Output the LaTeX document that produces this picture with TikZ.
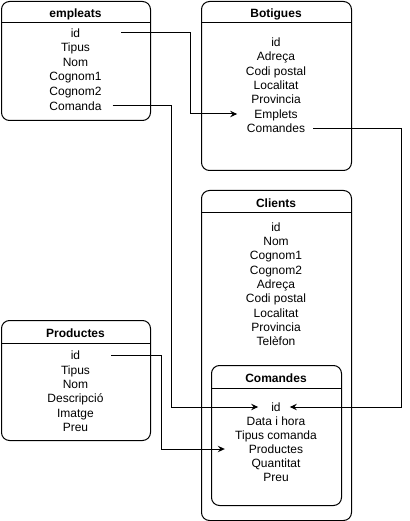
\documentclass[tikz,border=0pt]{standalone}
\usepackage{fontspec}
\setmainfont{Liberation Sans}
\usetikzlibrary{arrows.meta}
\begin{document}
\begin{tikzpicture}[x=1pt,y=-1pt,
  tbl/.style={draw=black,line width=1pt,rounded corners=8pt,anchor=north west,inner sep=0pt},
  hdr/.style={font=\fontsize{12pt}{14pt}\selectfont\bfseries,inner sep=0pt,text height=8.6pt,text depth=0pt},
  fld/.style={font=\fontsize{12pt}{14pt}\selectfont,inner sep=0pt,text height=8.6pt,text depth=0pt},
  sep/.style={line width=1pt},
  conn/.style={line width=1pt,-{Stealth[length=7pt,width=6.5pt,inset=2.5pt]}},
  link/.style={line width=1pt}]
\useasboundingbox (0,0) rectangle (409,521);
% empleats
\node[tbl,minimum width=149pt,minimum height=119pt] (emp) at (1,1) {};
\draw[sep] ([yshift=-22pt]emp.north west) -- ([yshift=-22pt]emp.north east);
\node[hdr] (emph) at (75.5,13) {empleats};
\node[fld] (e1) at (75.5,33) {id};
\node[fld] (e2) at (75.5,47.5) {Tipus};
\node[fld] (e3) at (75.5,62) {Nom};
\node[fld] (e4) at (75.5,76.5) {Cognom1};
\node[fld] (e5) at (75.5,91) {Cognom2};
\node[fld] (e6) at (75.5,106) {Comanda};
% Botigues
\node[tbl,minimum width=150pt,minimum height=169pt] (bot) at (201,1) {};
\draw[sep] ([yshift=-22pt]bot.north west) -- ([yshift=-22pt]bot.north east);
\node[hdr] (both) at (276,13) {Botigues};
\node[fld] (b1) at (276,42) {id};
\node[fld] (b2) at (276,56.5) {Adreça};
\node[fld] (b3) at (276,71) {Codi postal};
\node[fld] (b4) at (276,85) {Localitat};
\node[fld] (b5) at (276,99.5) {Provincia};
\node[fld] (b6) at (276,114) {Emplets};
\node[fld] (b7) at (276,128.5) {Comandes};
% Clients
\node[tbl,minimum width=150pt,minimum height=330pt] (cli) at (201,190) {};
\draw[sep] ([yshift=-22pt]cli.north west) -- ([yshift=-22pt]cli.north east);
\node[hdr] (clih) at (276,203) {Clients};
\node[fld] (k1) at (276,227) {id};
\node[fld] (k2) at (276,241.3) {Nom};
\node[fld] (k3) at (276,255.6) {Cognom1};
\node[fld] (k4) at (276,269.9) {Cognom2};
\node[fld] (k5) at (276,284.2) {Adreça};
\node[fld] (k6) at (276,298.5) {Codi postal};
\node[fld] (k7) at (276,312.8) {Localitat};
\node[fld] (k8) at (276,327.1) {Provincia};
\node[fld] (k9) at (276,341.4) {Telèfon};
% Comandes (inner)
\node[tbl,minimum width=130pt,minimum height=140pt] (com) at (211,365) {};
\draw[sep] ([yshift=-23pt]com.north west) -- ([yshift=-23pt]com.north east);
\node[hdr] (comh) at (276,378) {Comandes};
\node[fld] (c1) at (276,407) {id};
\node[fld] (c2) at (276,421) {Data i hora};
\node[fld] (c3) at (276,435) {Tipus comanda};
\node[fld] (c4) at (276,449) {Productes};
\node[fld] (c5) at (276,463) {Quantitat};
\node[fld] (c6) at (276,477) {Preu};
% Productes
\node[tbl,minimum width=149pt,minimum height=120pt] (pro) at (1,320) {};
\draw[sep] ([yshift=-23pt]pro.north west) -- ([yshift=-23pt]pro.north east);
\node[hdr] (proh) at (75.5,333) {Productes};
\node[fld] (p1) at (75.5,355.5) {id};
\node[fld] (p2) at (75.5,369.8) {Tipus};
\node[fld] (p3) at (75.5,384.1) {Nom};
\node[fld] (p4) at (75.5,398.4) {Descripció};
\node[fld] (p5) at (75.5,412.7) {Imatge};
\node[fld] (p6) at (75.5,427) {Preu};
% connectors
\draw[conn] ([xshift=41pt]e1.east) -- ++(69.5,0) |- ([xshift=-17pt]b6.west);
\draw[conn] ([xshift=11pt]e6.east) -- ++(59,0) |- ([xshift=-13pt]c1.west);
\draw[conn] ([xshift=8pt]b7.east) -- ++(88,0) |- ([xshift=9pt]c1.east);
\draw[conn] ([xshift=31pt]p1.east) -- ++(50,0) |- ([xshift=-24pt]c4.west);
\end{tikzpicture}
\end{document}
